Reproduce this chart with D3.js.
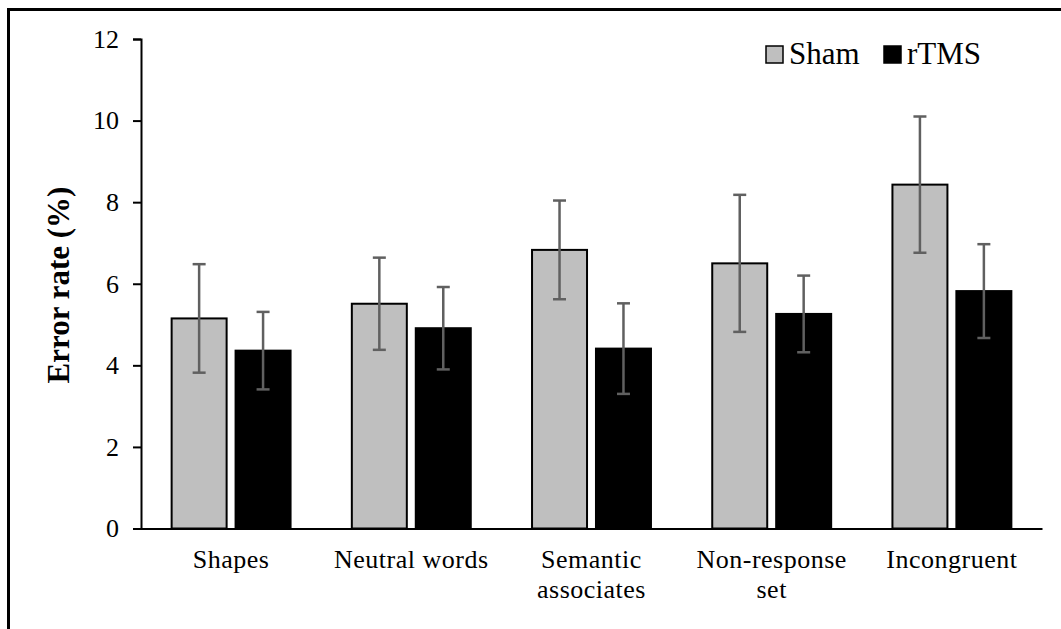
<!DOCTYPE html>
<html>
<head>
<meta charset="utf-8">
<script src="https://cdn.jsdelivr.net/npm/d3@7/dist/d3.min.js"></script>
<style>
  html, body { margin: 0; padding: 0; background: #fff; }
  svg { display: block; }
  svg text { font-family: "Liberation Serif", "Times New Roman", "DejaVu Serif", serif !important; fill: #000; }
</style>
</head>
<body>
<svg id="chart" width="1061" height="629"></svg>
<script>
// Conditions on the category axis (line breaks marked with \n)
const categories = ["Shapes", "Neutral words", "Semantic\nassociates", "Non-response\nset", "Incongruent"];
const seriesNames = ["Sham", "rTMS"];
// Mean error rate (%) per condition
const shamValues = [5.15, 5.51, 6.83, 6.50, 8.43];
const rtmsValues = [4.36, 4.91, 4.41, 5.26, 5.82];
// Error bar half-lengths
const shamErrors = [1.33, 1.13, 1.21, 1.68, 1.67];
const rtmsErrors = [0.95, 1.01, 1.11, 0.94, 1.15];
const yTicks = [0, 2, 4, 6, 8, 10, 12];

const seriesFill = { "Sham": "#bfbfbf", "rTMS": "#000000" };
const SERIF = "'Liberation Serif', 'Times New Roman', serif";

const svg = d3.select("#chart");

// Outer frame
svg.append("rect")
  .attr("x", 8.5).attr("y", 9.5)
  .attr("width", 1100).attr("height", 700)
  .attr("fill", "none").attr("stroke", "#000").attr("stroke-width", 3);

const x0 = d3.scaleBand().domain(categories).range([141, 1042])
  .paddingInner(0.34).paddingOuter(0.17);
const x1 = d3.scaleBand().domain(seriesNames).range([0, x0.bandwidth()]).paddingInner(0.14);
const y = d3.scaleLinear().domain([0, 12]).range([528.5, 39]);

const rows = categories.map((c, i) => ({
  category: c,
  bars: [
    { series: "Sham", value: shamValues[i], err: shamErrors[i] },
    { series: "rTMS", value: rtmsValues[i], err: rtmsErrors[i] }
  ]
}));

// Bars
const groups = svg.append("g").selectAll("g").data(rows).join("g")
  .attr("transform", d => `translate(${x0(d.category)},0)`);

groups.selectAll("rect").data(d => d.bars).join("rect")
  .attr("x", d => x1(d.series))
  .attr("y", d => y(d.value))
  .attr("width", x1.bandwidth())
  .attr("height", d => y(0) - y(d.value))
  .attr("fill", d => seriesFill[d.series])
  .attr("stroke", "#000")
  .attr("stroke-width", 2);

// Error bars
const capHalf = 6.5;
const eb = groups.selectAll("g.err").data(d => d.bars).join("g").attr("class", "err")
  .attr("stroke", "#606060").attr("stroke-width", 2.5).attr("fill", "none");
eb.append("line")
  .attr("x1", d => x1(d.series) + x1.bandwidth() / 2)
  .attr("x2", d => x1(d.series) + x1.bandwidth() / 2)
  .attr("y1", d => y(d.value + d.err))
  .attr("y2", d => y(d.value - d.err));
eb.append("line")
  .attr("x1", d => x1(d.series) + x1.bandwidth() / 2 - capHalf)
  .attr("x2", d => x1(d.series) + x1.bandwidth() / 2 + capHalf)
  .attr("y1", d => y(d.value + d.err))
  .attr("y2", d => y(d.value + d.err));
eb.append("line")
  .attr("x1", d => x1(d.series) + x1.bandwidth() / 2 - capHalf)
  .attr("x2", d => x1(d.series) + x1.bandwidth() / 2 + capHalf)
  .attr("y1", d => y(d.value - d.err))
  .attr("y2", d => y(d.value - d.err));

// Y axis
const yAxis = svg.append("g").attr("transform", "translate(141,0)")
  .call(d3.axisLeft(y).tickValues(yTicks).tickSize(8).tickPadding(14).tickFormat(d3.format("d")));
yAxis.attr("font-family", SERIF).attr("font-size", 26);
yAxis.select(".domain").attr("stroke", "#000").attr("stroke-width", 2);
yAxis.selectAll(".tick line").attr("stroke", "#000").attr("stroke-width", 2);
yAxis.selectAll(".tick text").attr("font-size", 26).attr("font-family", SERIF).attr("fill", "#000");

// X axis
const xAxis = svg.append("g").attr("transform", `translate(0,${y(0)})`)
  .call(d3.axisBottom(x0).tickSize(0).tickFormat(""));
xAxis.select(".domain").attr("stroke", "#000").attr("stroke-width", 2);

// Category labels (multi-line)
const catLabels = svg.append("g").selectAll("text").data(categories).join("text")
  .attr("x", d => x0(d) + x0.bandwidth() / 2)
  .attr("y", 568)
  .attr("text-anchor", "middle")
  .attr("font-family", SERIF)
  .attr("font-size", 26)
  .attr("letter-spacing", 0.5);
catLabels.each(function (d) {
  const t = d3.select(this);
  const cx = x0(d) + x0.bandwidth() / 2;
  d.split("\n").forEach((line, i) => {
    t.append("tspan").attr("x", cx).attr("dy", i === 0 ? 0 : 30).text(line);
  });
});

// Y axis title
svg.append("text")
  .attr("transform", "translate(69,285) rotate(-90)")
  .attr("text-anchor", "middle")
  .attr("font-family", SERIF)
  .attr("font-size", 31)
  .attr("font-weight", "bold")
  .text("Error rate (%)");

// Legend
const legendItems = [
  { name: "Sham", x: 766 },
  { name: "rTMS", x: 884 }
];
const lg = svg.append("g").selectAll("g").data(legendItems).join("g")
  .attr("transform", d => `translate(${d.x},46)`);
lg.append("rect")
  .attr("x", 0).attr("y", 0).attr("width", 17).attr("height", 17)
  .attr("fill", d => seriesFill[d.name])
  .attr("stroke", "#000").attr("stroke-width", 1.5);
lg.append("text")
  .attr("x", 23).attr("y", 18)
  .attr("font-family", SERIF)
  .attr("font-size", 31)
  .text(d => d.name);
</script>
</body>
</html>
